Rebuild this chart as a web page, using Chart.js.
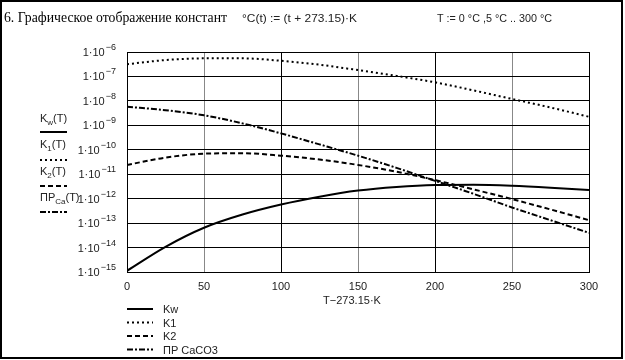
<!DOCTYPE html>
<html>
<head>
<meta charset="utf-8">
<script src="https://cdn.jsdelivr.net/npm/chart.js@4"></script>
<style>
    body { margin: 0; background: #fff; }
    #wrap { width: 625px; height: 360px; position: relative; }
</style>
</head>
<body>
<div id="wrap"><canvas id="chart"></canvas></div>
<script>
// temperature, °C
const TEMPS = [0, 25, 50, 75, 100, 125, 150, 175, 200, 225, 250, 275, 300];

// constants
const KW = [1.12e-15, 1.07e-14, 6.46e-14, 2.24e-13, 5.75e-13, 1.20e-12, 2.14e-12,
    3.02e-12, 3.63e-12, 3.72e-12, 3.39e-12, 2.82e-12, 2.24e-12];
const K1 = [3.16e-7, 4.68e-7, 5.50e-7, 5.50e-7, 4.37e-7, 3.02e-7, 1.82e-7,
    1.05e-7, 5.75e-8, 2.69e-8, 1.20e-8, 5.37e-9, 2.24e-9];
const K2 = [2.40e-11, 4.79e-11, 6.92e-11, 7.24e-11, 5.75e-11, 3.98e-11, 2.40e-11,
    1.26e-11, 5.75e-12, 2.40e-12, 9.55e-13, 3.63e-13, 1.32e-13];
const PR_CA = [5.75e-9, 4.17e-9, 2.57e-9, 1.20e-9, 4.68e-10, 1.66e-10, 5.75e-11,
    1.82e-11, 5.37e-12, 1.58e-12, 4.37e-13, 1.32e-13, 3.98e-14];

const Y_EXPONENTS = [-15, -14, -13, -12, -11, -10, -9, -8, -7, -6];
const X_TICKS = [0, 50, 100, 150, 200, 250, 300];

const SANS = "'Liberation Sans', Arial, sans-serif";

const SERIES = [
    {label: "Kw", data: KW, dash: []},
    {label: "K1", data: K1, dash: [2, 3]},
    {label: "K2", data: K2, dash: [5, 3]},
    {label: "ПР CaCO3", data: PR_CA, dash: [6, 2, 2, 2]},
];

// text with a subscript part
function subText(ctx, x, y, main, sub, rest) {
    ctx.font = "11px " + SANS;
    ctx.fillText(main, x, y);
    let w = ctx.measureText(main).width;
    ctx.font = "8px " + SANS;
    ctx.fillText(sub, x + w, y + 3);
    let w2 = ctx.measureText(sub).width;
    ctx.font = "11px " + SANS;
    ctx.fillText(rest, x + w + w2, y);
}

// text squeezed to a given width
function fitText(ctx, text, x, y, width) {
    let w = ctx.measureText(text).width;
    ctx.save();
    ctx.translate(x, y);
    ctx.scale(width / w, 1);
    ctx.fillText(text, 0, 0);
    ctx.restore();
}

function sample(ctx, x1, x2, y, dash) {
    ctx.save();
    ctx.strokeStyle = "#000";
    ctx.lineWidth = 2;
    ctx.setLineDash(dash);
    ctx.beginPath();
    ctx.moveTo(x1, y);
    ctx.lineTo(x2, y);
    ctx.stroke();
    ctx.restore();
}

const extras = {
    id: "extras",
    afterDraw(chart) {
        let ctx = chart.ctx;
        let a = chart.chartArea;
        let yScale = chart.scales.y;
        ctx.save();

        // plot frame
        ctx.strokeStyle = "#000";
        ctx.lineWidth = 1;
        ctx.strokeRect(a.left + 0.5, a.top + 0.5, a.right - a.left, a.bottom - a.top);

        // outer frame
        ctx.lineWidth = 2;
        ctx.strokeRect(1, 1, 621, 357);

        ctx.fillStyle = "#000";
        ctx.textBaseline = "alphabetic";
        ctx.textAlign = "left";

        // header
        ctx.font = "14px 'Liberation Serif', 'Times New Roman', serif";
        fitText(ctx, "6. Графическое отображение констант", 4, 22, 223);
        ctx.font = "11px " + SANS;
        ctx.fillStyle = "#222";
        fitText(ctx, "°C(t) := (t + 273.15)·K", 242, 22, 115);
        fitText(ctx, "T := 0 °C ,5 °C .. 300 °C", 437, 22, 115);

        // y tick labels 1·10^n
        Y_EXPONENTS.forEach(function (e) {
            let y = yScale.getPixelForValue(Number("1e" + e));
            ctx.font = "9px " + SANS;
            let exp = String(e).replace("-", "−");
            let we = ctx.measureText(exp).width;
            ctx.fillText(exp, 116 - we, y - 2);
            ctx.font = "11px " + SANS;
            let wb = ctx.measureText("1·10").width;
            ctx.fillText("1·10", 116 - we - wb - 1, y + 4);
        });

        // trace labels on the left
        subText(ctx, 40, 122, "K", "w", "(T)");
        sample(ctx, 40, 67, 132, SERIES[0].dash);
        subText(ctx, 40, 148, "K", "1", "(T)");
        sample(ctx, 40, 67, 160, SERIES[1].dash);
        subText(ctx, 40, 175, "K", "2", "(T)");
        sample(ctx, 40, 67, 186, SERIES[2].dash);
        subText(ctx, 40, 201, "ПР", "Ca", "(T)");
        sample(ctx, 40, 67, 212, SERIES[3].dash);

        // x axis title
        ctx.font = "11px " + SANS;
        ctx.textAlign = "center";
        ctx.fillText("T−273.15·K", 352, 304);

        // legend
        ctx.textAlign = "left";
        ctx.textBaseline = "middle";
        SERIES.forEach(function (s, i) {
            let y = 309 + i * 13.5;
            sample(ctx, 127, 153, y, s.dash);
            ctx.fillStyle = "#222";
            ctx.font = "11px " + SANS;
            ctx.fillText(s.label, 163, y + 1);
        });

        ctx.restore();
    }
};

new Chart(document.getElementById("chart"), {
    type: "line",
    data: {
        datasets: SERIES.map(s => ({
            label: s.label,
            data: TEMPS.map((t, i) => ({x: t, y: s.data[i]})),
            borderColor: "#000",
            borderWidth: 2,
            borderDash: s.dash,
            pointRadius: 0,
            fill: false,
            cubicInterpolationMode: "monotone",
        }))
    },
    options: {
        animation: false,
        responsive: true,
        maintainAspectRatio: false,
        layout: {
            padding: {left: 0, right: 36, top: 52, bottom: 63}
        },
        scales: {
            x: {
                type: "linear",
                min: 0,
                max: 300,
                afterFit: function (scale) { scale.height = 25; },
                afterBuildTicks: function (scale) {
                    scale.ticks = X_TICKS.map(v => ({value: v}));
                },
                grid: {
                    color: ctx => (ctx.tick && ctx.tick.value % 100 === 0) ? "#000" : "#888",
                    lineWidth: 1,
                    drawTicks: false,
                },
                border: {display: false},
                ticks: {
                    color: "#222",
                    padding: 8,
                    maxRotation: 0,
                    font: {family: SANS, size: 11},
                },
            },
            y: {
                type: "logarithmic",
                min: 1e-15,
                max: 1e-6,
                afterFit: function (scale) { scale.width = 127; },
                afterBuildTicks: function (scale) {
                    scale.ticks = Y_EXPONENTS.map(e => ({value: Number("1e" + e)}));
                },
                grid: {
                    color: "#000",
                    lineWidth: 1,
                    drawTicks: false,
                },
                border: {display: false},
                ticks: {display: false},
            }
        },
        plugins: {
            legend: {display: false},
            tooltip: {enabled: false},
            title: {display: false},
        }
    },
    plugins: [extras]
});
</script>
</body>
</html>
